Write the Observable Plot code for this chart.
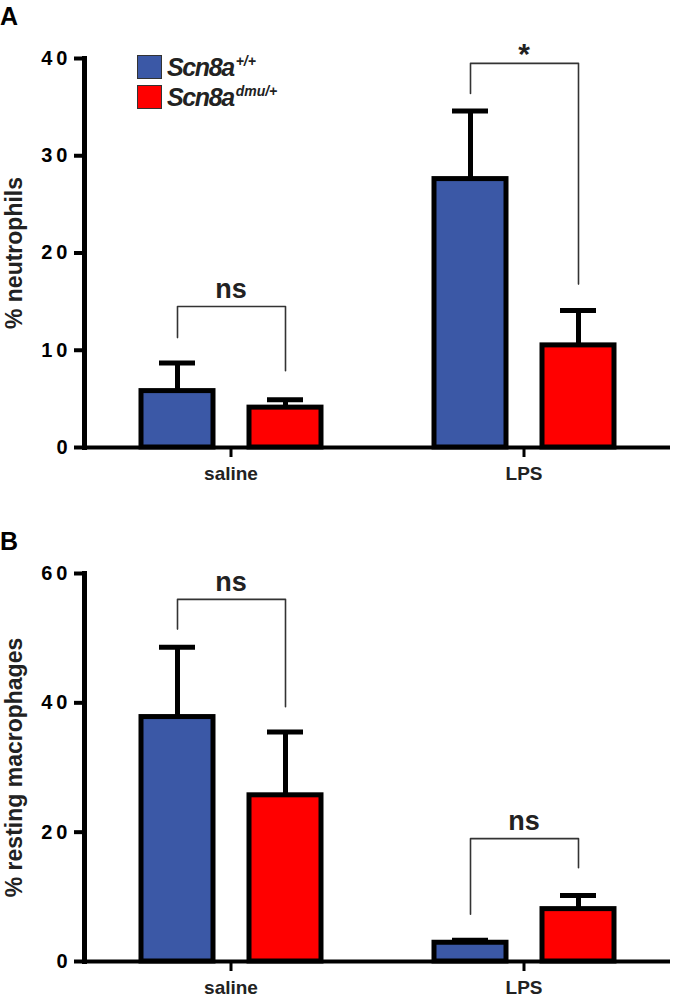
<!DOCTYPE html>
<html>
<head>
<meta charset="utf-8">
<script src="https://cdn.jsdelivr.net/npm/d3@7"></script>
<script src="https://cdn.jsdelivr.net/npm/@observablehq/plot@0.6"></script>
<style>
  body { margin: 0; background: #fff; font-family: "Liberation Sans", Arial, sans-serif; }
  #wrap { position: relative; width: 675px; height: 1000px; overflow: hidden; }
  .panel { position: absolute; left: 0; }
  .letter { position: absolute; left: 0; font-weight: bold; font-size: 25px; line-height: 25px; color: #000; }
  .legend { position: absolute; left: 137px; top: 55px; }
  .legrow { position: relative; height: 30px; }
  .sw { position: absolute; left: 0; top: 0; width: 25px; height: 24px; box-sizing: border-box; border: 1.5px solid #333; }
  .lt { position: absolute; left: 30px; top: 0; line-height: 24px; white-space: nowrap;
        font-style: italic; font-weight: bold; font-size: 25px; letter-spacing: -1.4px; color: #222; }
  .lt .sup { font-size: 14px; letter-spacing: 0; position: relative; top: -10px; margin-left: 2px; }
  svg g[aria-label="y-axis tick label"] text { letter-spacing: 4px; }
</style>
</head>
<body>
<div id="wrap"></div>
<script>
// ---- categories ----
const groups = ["saline", "LPS"];
const genotypes = ["Scn8a+/+", "Scn8admu/+"];
const genoBase = ["Scn8a", "Scn8a"];
const genoSup = ["+/+", "dmu/+"];
const colors = ["#3b58a6", "#ff0000"];

// ---- Panel A: % neutrophils ----
const neutWT = [5.8, 27.6];
const neutWTerr = [8.7, 34.6];
const neutDMU = [4.1, 10.5];
const neutDMUerr = [4.9, 14.1];
const neutBrTop = [14.5, 39.5];
const neutBrLegWT = [11.3, 36.4];
const neutBrLegDMU = [7.9, 16.8];
const neutSig = ["ns", "*"];
const neutTicks = [0, 10, 20, 30, 40];
const neutLabel = "% neutrophils";

// ---- Panel B: % resting macrophages ----
const macWT = [37.8, 2.9];
const macWTerr = [48.6, 3.3];
const macDMU = [25.7, 8.1];
const macDMUerr = [35.5, 10.2];
const macBrTop = [56.0, 19.0];
const macBrLegWT = [51.4, 7.3];
const macBrLegDMU = [39.4, 14.5];
const macSig = ["ns", "ns"];
const macTicks = [0, 20, 40, 60];
const macLabel = "% resting macrophages";

function panel(cfg) {
  const rows = groups.flatMap((g, i) => [
    {group: g, geno: genotypes[0], mean: cfg.wt[i], err: cfg.wtErr[i]},
    {group: g, geno: genotypes[1], mean: cfg.dmu[i], err: cfg.dmuErr[i]}
  ]);
  const br = groups.flatMap((g, i) => [
    {group: g, geno: genotypes[0], v: cfg.legWT[i]},
    {group: g, geno: genotypes[0], v: cfg.top[i]},
    {group: g, geno: genotypes[1], v: cfg.top[i]},
    {group: g, geno: genotypes[1], v: cfg.legDMU[i]}
  ]);
  const sig = groups.map((g, i) => ({group: g, y: cfg.top[i], s: cfg.sig[i]}));
  const yMax = cfg.ticks[cfg.ticks.length - 1];
  return Plot.plot({
    width: 675,
    height: cfg.height,
    marginLeft: 83,
    marginRight: 5,
    marginTop: cfg.marginTop,
    marginBottom: cfg.marginBottom,
    style: {fontFamily: "Liberation Sans, Arial, sans-serif", background: "white", overflow: "visible"},
    fx: {domain: groups, paddingInner: 0, paddingOuter: 0},
    x: {domain: genotypes, paddingInner: 0.3, paddingOuter: 0.5, axis: null},
    y: {domain: [0, yMax]},
    color: {domain: genotypes, range: colors},
    marks: [
      Plot.ruleX(rows, {fx: "group", x: "geno", y1: "mean", y2: "err", stroke: "black", strokeWidth: 5}),
      Plot.tickY(rows, {fx: "group", x: "geno", y: "err", stroke: "black", strokeWidth: 5, insetLeft: 20, insetRight: 20}),
      Plot.barY(rows, {fx: "group", x: "geno", y: "mean", fill: "geno", stroke: "black", strokeWidth: 5, insetLeft: 2, insetRight: 2}),
      Plot.line(br, {fx: "group", x: "geno", y: "v", z: "group", stroke: "#333", strokeWidth: 1.6}),
      Plot.text(sig.filter(d => d.s !== "*"), {fx: "group", y: "y", text: "s", dy: -17.5, fontSize: 27, fontWeight: "bold", fill: "#222"}),
      Plot.text(sig.filter(d => d.s === "*"), {fx: "group", y: "y", text: "s", dy: -9, fontSize: 30, fontWeight: "bold", fill: "#222"}),
      Plot.ruleY([0], {stroke: "black", strokeWidth: 4}),
      Plot.frame({anchor: "left", fx: () => groups[0], stroke: "black", strokeWidth: 5}),
      Plot.axisY({ticks: cfg.ticks, tickSize: 10, strokeWidth: 4, fontSize: 20, fontWeight: "bold", label: null, tickPadding: 3, tickFormat: d => String(d)}),
      Plot.axisFx({anchor: "bottom", tickSize: 10, strokeWidth: 3, fontSize: 19, fontWeight: "bold", label: null, tickPadding: 9, fill: "#222"}),
      Plot.text([cfg.label], {fx: () => groups[0], text: d => d, frameAnchor: "left", textAnchor: "middle", rotate: -90, dx: -70, fontSize: 23, fontWeight: "bold", fill: "#222"})
    ]
  });
}

const wrap = document.getElementById("wrap");

const svgA = panel({wt: neutWT, wtErr: neutWTerr, dmu: neutDMU, dmuErr: neutDMUerr,
  top: neutBrTop, legWT: neutBrLegWT, legDMU: neutBrLegDMU, sig: neutSig, ticks: neutTicks,
  label: neutLabel, height: 495, marginTop: 58, marginBottom: 48});
svgA.classList.add("panel");
svgA.style.top = "0px";
wrap.appendChild(svgA);

const svgB = panel({wt: macWT, wtErr: macWTerr, dmu: macDMU, dmuErr: macDMUerr,
  top: macBrTop, legWT: macBrLegWT, legDMU: macBrLegDMU, sig: macSig, ticks: macTicks,
  label: macLabel, height: 505, marginTop: 78, marginBottom: 39});
svgB.classList.add("panel");
svgB.style.top = "495px";
wrap.appendChild(svgB);

// panel letters
[["A", 4], ["B", 529]].forEach(([t, top]) => {
  const d = document.createElement("div");
  d.className = "letter";
  d.style.top = top + "px";
  d.textContent = t;
  wrap.appendChild(d);
});

// legend
const leg = document.createElement("div");
leg.className = "legend";
genotypes.forEach((g, i) => {
  const row = document.createElement("div");
  row.className = "legrow";
  const sw = document.createElement("div");
  sw.className = "sw";
  sw.style.background = colors[i];
  const lt = document.createElement("div");
  lt.className = "lt";
  lt.textContent = genoBase[i];
  const sp = document.createElement("span");
  sp.className = "sup";
  sp.textContent = genoSup[i];
  lt.appendChild(sp);
  row.appendChild(sw);
  row.appendChild(lt);
  leg.appendChild(row);
});
wrap.appendChild(leg);
</script>
</body>
</html>
